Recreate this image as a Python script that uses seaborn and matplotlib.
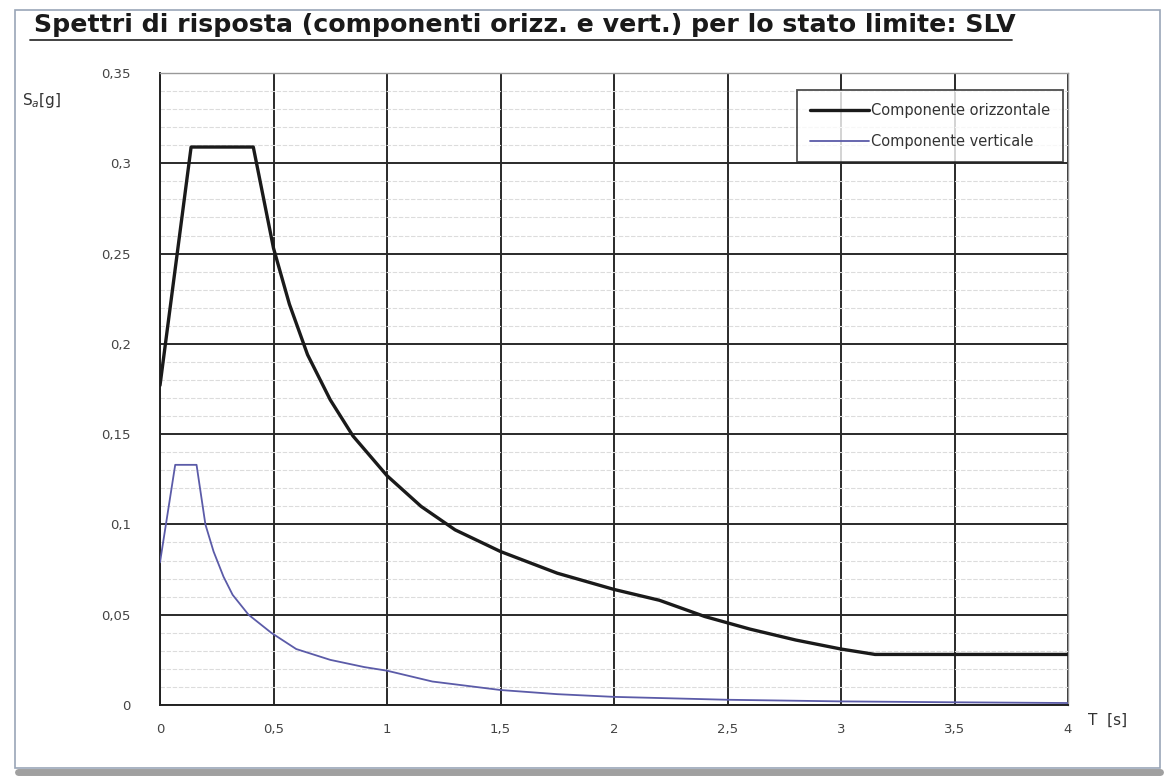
import matplotlib
matplotlib.use("Agg")
import matplotlib.pyplot as plt
import seaborn as sns
import pandas as pd
import numpy as np
from matplotlib.lines import Line2D
from matplotlib.patches import Rectangle
from matplotlib.ticker import MultipleLocator, FixedLocator

# ---- data ----
T_oriz = [0.0, 0.137, 0.411, 0.5, 0.57, 0.65, 0.75, 0.85, 1.0, 1.15, 1.3, 1.5,
          1.75, 2.0, 2.2, 2.4, 2.6, 2.8, 3.0, 3.15, 4.0]
Sa_oriz = [0.177, 0.309, 0.309, 0.253, 0.222, 0.194, 0.169, 0.149, 0.127, 0.110,
           0.097, 0.085, 0.073, 0.064, 0.058, 0.049, 0.042, 0.036, 0.031, 0.028, 0.028]

T_vert = [0.0, 0.067, 0.161, 0.2, 0.236, 0.28, 0.32, 0.39, 0.49, 0.6, 0.75, 0.9,
          1.0, 1.2, 1.5, 1.75, 2.0, 2.5, 3.0, 3.5, 4.0]
Sa_vert = [0.079, 0.133, 0.133, 0.100, 0.085, 0.071, 0.061, 0.050, 0.040, 0.031,
           0.025, 0.021, 0.019, 0.013, 0.0083, 0.006, 0.0045, 0.0029, 0.002, 0.0015, 0.0011]

x_ticks = [0, 0.5, 1, 1.5, 2, 2.5, 3, 3.5, 4]
x_labels = ["0", "0,5", "1", "1,5", "2", "2,5", "3", "3,5", "4"]
y_ticks = [0, 0.05, 0.1, 0.15, 0.2, 0.25, 0.3, 0.35]
y_labels = ["0", "0,05", "0,1", "0,15", "0,2", "0,25", "0,3", "0,35"]

title = "Spettri di risposta (componenti orizz. e vert.) per lo stato limite: SLV"
lab_oriz = "Componente orizzontale"
lab_vert = "Componente verticale"

sns.set_theme(style="white")
plt.rcParams['font.family'] = ['DejaVu Sans']

df_o = pd.DataFrame({"T": T_oriz, "Sa": Sa_oriz})
df_v = pd.DataFrame({"T": T_vert, "Sa": Sa_vert})

fig = plt.figure(figsize=(11.66, 7.81), dpi=100)
fig.patch.set_facecolor("white")
ax = fig.add_axes([160/1166, 1-705/781, (1068-160)/1166, (705-73)/781])

sns.lineplot(data=df_o, x="T", y="Sa", ax=ax, color="#1a1a1a", linewidth=2.4,
             label=lab_oriz, zorder=5)
sns.lineplot(data=df_v, x="T", y="Sa", ax=ax, color="#5b5ba8", linewidth=1.3,
             label=lab_vert, zorder=5)

ax.set_xlim(0, 4)
ax.set_ylim(0, 0.35)
ax.xaxis.set_major_locator(FixedLocator(x_ticks))
ax.yaxis.set_major_locator(FixedLocator(y_ticks))
ax.yaxis.set_minor_locator(MultipleLocator(0.01))
ax.set_xticklabels(x_labels)
ax.set_yticklabels(y_labels)

ax.grid(which="major", axis="both", color="#2a2a2a", linewidth=1.4, zorder=1)
ax.grid(which="minor", axis="y", color="#dcdcdc", linewidth=0.8, linestyle=(0, (4, 1.5)), zorder=0)
ax.set_axisbelow(True)

ax.tick_params(axis="both", which="major", direction="out", length=5, width=1,
               color="#333333", labelsize=9.5, labelcolor="#444444")
ax.tick_params(axis="both", which="minor", length=0)
ax.tick_params(axis="y", pad=16)
ax.tick_params(axis="x", pad=8)

for side in ["left", "bottom"]:
    ax.spines[side].set_color("#222222")
    ax.spines[side].set_linewidth(1.4)
for side in ["top", "right"]:
    ax.spines[side].set_color("#999999")
    ax.spines[side].set_linewidth(1.0)

ax.set_xlabel("")
ax.set_ylabel("")

leg = ax.legend(loc="upper right", bbox_to_anchor=(0.9945, 0.973), frameon=True,
                fancybox=False, edgecolor="#222222", fontsize=10.5,
                handlelength=4.0, handletextpad=0.15, labelspacing=1.1,
                borderpad=0.9, borderaxespad=0.0)
leg.get_frame().set_linewidth(1.3)
for t in leg.get_texts():
    t.set_color("#333333")

# axis labels placed like the original
fig.text(22/1166, 1-100/781, "S$_a$[g]", fontsize=11, color="#333333",
         ha="left", va="center")
fig.text(1088/1166, 1-720/781, "T  [s]", fontsize=11, color="#333333",
         ha="left", va="center")

# title with underline
fig.text(34/1166, 1-25/781, title, fontsize=18.2, fontweight="bold", color="#1a1a1a",
         ha="left", va="center")
fig.add_artist(Line2D([30/1166, 1012/1166], [1-40/781, 1-40/781],
                      color="#333333", linewidth=1.3, transform=fig.transFigure))

# page frame and shadow
fig.add_artist(Rectangle((15/1166, 1-768/781), (1160-15)/1166, (768-10)/781,
                         fill=False, edgecolor="#9aa6b8", linewidth=1.2,
                         transform=fig.transFigure))
fig.add_artist(Line2D([18/1166, 1160/1166], [1-772/781, 1-772/781],
                      color="#a0a0a0", linewidth=5, transform=fig.transFigure))

fig.savefig("out.png", dpi=100, facecolor="white")
